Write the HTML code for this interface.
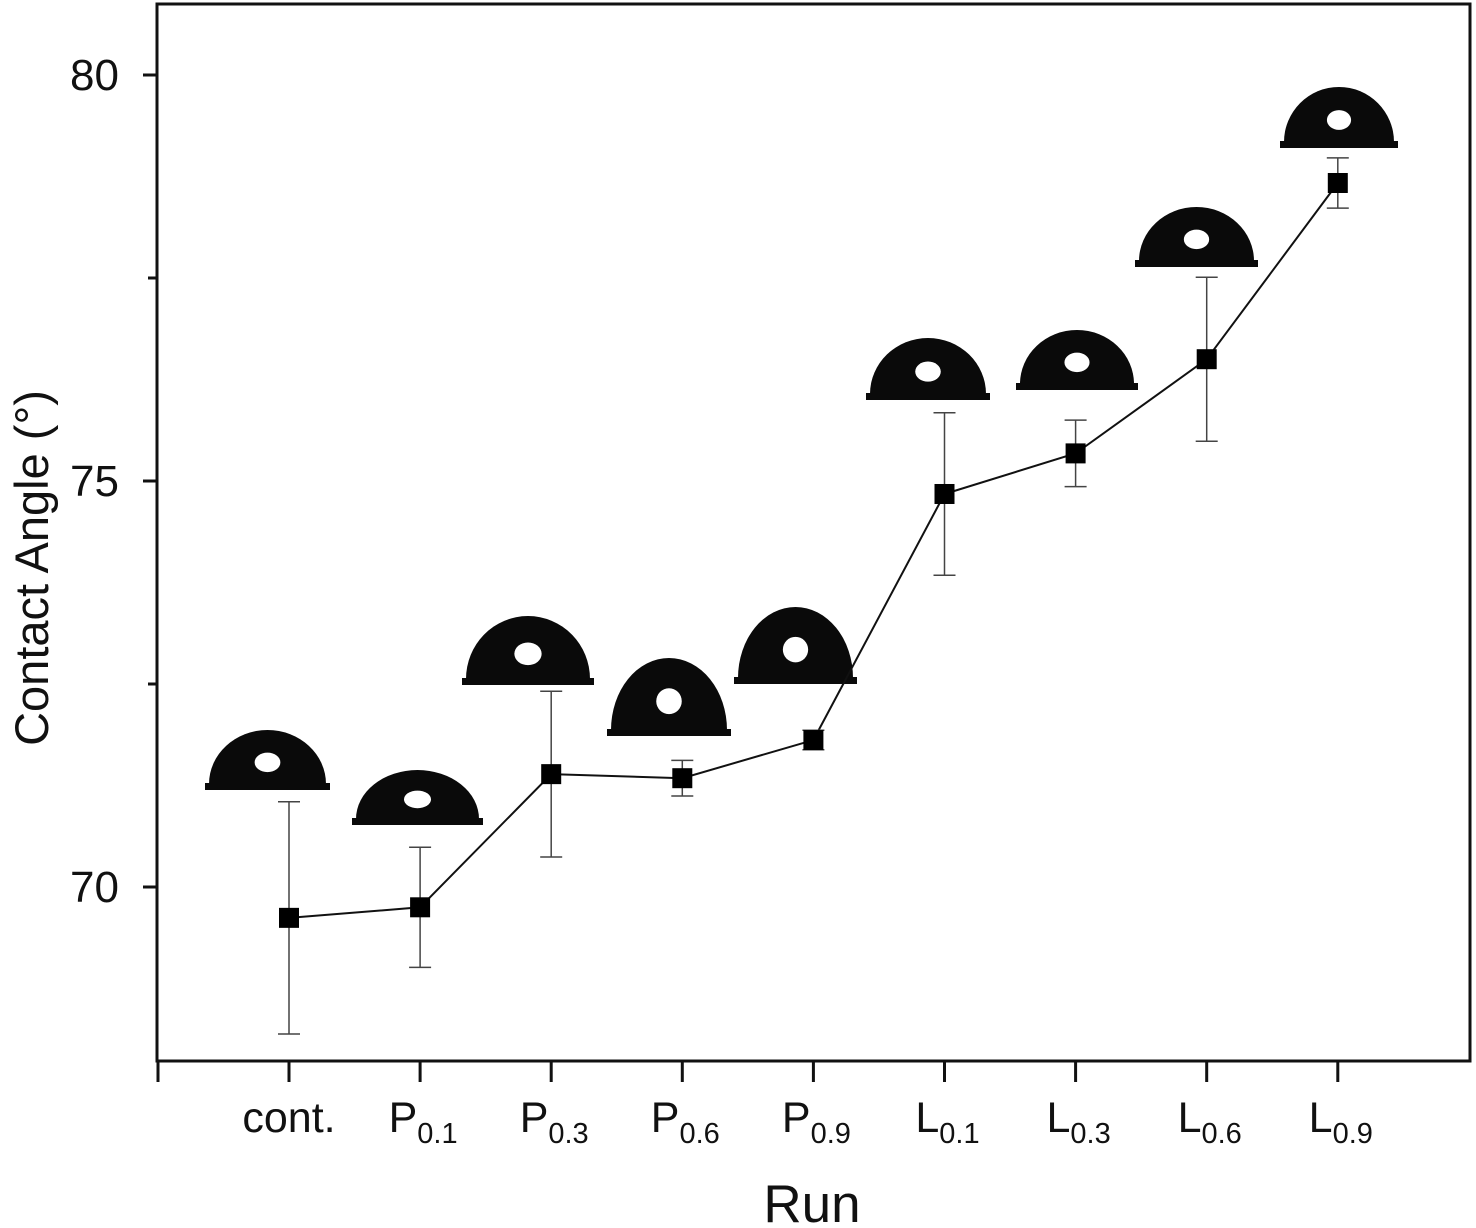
<!DOCTYPE html>
<html><head><meta charset="utf-8"><style>
html,body{margin:0;padding:0;background:#fff;}
svg{display:block;font-family:"Liberation Sans",Arial,sans-serif;}
</style></head><body>
<svg id="chart" width="1476" height="1228" viewBox="0 0 1476 1228" xmlns="http://www.w3.org/2000/svg">
<g id="drops"></g>
<g id="axes"></g>
<g id="series"></g>
<text x="0" y="0" transform="translate(48,568) rotate(-90)" text-anchor="middle" font-size="47" fill="#111">Contact Angle (°)</text>
<text x="812" y="1222" text-anchor="middle" font-size="53" fill="#111">Run</text>
</svg>
<script>
const categories=["cont.","P","P","P","P","L","L","L","L"];
const subs=["","0.1","0.3","0.6","0.9","0.1","0.3","0.6","0.9"];
const values=[69.62,69.75,71.39,71.34,71.81,74.84,75.34,76.5,78.67];
const errors=[1.43,0.74,1.02,0.22,0.12,1.0,0.41,1.01,0.31];
const yTicks=[70,75,80];
const yMinor=[72.5,77.5];
// droplet image boxes: [left, right, top, base]
const drops=[[205,330,730,790],[352,483,770,825],[462,594,616,685],[607,731,658,736],[734,857,607,684],[866,990,338,400],[1016,1138,330,390],[1135,1258,207,267],[1280,1398,87,148]];

const NS="http://www.w3.org/2000/svg";
const X0=157,X1=1470,Y0=4,Y1=1061;
const xs=i=>289+i*131.1;
const ys=v=>887-(v-70)*81.2;
function mk(p,t,a){const e=document.createElementNS(NS,t);for(const k in a)e.setAttribute(k,a[k]);p.appendChild(e);return e;}
const gA=document.getElementById('axes'),gS=document.getElementById('series'),gD=document.getElementById('drops');

let fr=mk(gA,'rect',{x:X0,y:Y0,width:X1-X0,height:Y1-Y0,fill:'none',stroke:'#111','stroke-width':3});


yTicks.forEach(v=>{
  let t=mk(gA,'line',{x1:143,x2:X0,y1:ys(v),y2:ys(v),stroke:'#111','stroke-width':3});
  
  
  let l=mk(gA,'text',{x:119,y:ys(v)+15,'text-anchor':'end','font-size':44,fill:'#111'});
  l.textContent=v;
  
  
});
yMinor.forEach(v=>{
  let t=mk(gA,'line',{x1:148,x2:X0,y1:ys(v),y2:ys(v),stroke:'#111','stroke-width':3});
  
  
});
let t0=mk(gA,'line',{x1:158,x2:158,y1:Y1,y2:1082,stroke:'#111','stroke-width':3});


categories.forEach((c,i)=>{
  const x=xs(i);
  let t=mk(gA,'line',{x1:x,x2:x,y1:Y1,y2:1082,stroke:'#111','stroke-width':3});
  
  
  let l=mk(gA,'text',{x:subs[i]?x+3:x,y:1132,'text-anchor':'middle','font-size':43,fill:'#111'});
  
  
  if(subs[i]){
    let a=mk(l,'tspan',{});a.textContent=c;
    let b=mk(l,'tspan',{'font-size':29,dy:11});b.textContent=subs[i];
  } else l.textContent=c;
});
drops.forEach((d,i)=>{
  const [l,r,t,b]=d;const cx=(l+r)/2,rx=(r-l)/2-4,h=b-t-6;
  let g=mk(gD,'g',{});
  
  
  mk(g,'path',{d:`M${l+4},${b-6} A${rx},${h} 0 0 1 ${r-4},${b-6} Z`,fill:'#0a0a0a'});
  mk(g,'rect',{x:l,y:b-7,width:r-l,height:7,fill:'#0a0a0a'});
  mk(g,'ellipse',{cx:cx,cy:b-6-h*0.4,rx:rx*0.22,ry:h*0.18,fill:'#fff'});
});
let pts=values.map((v,i)=>[xs(i),ys(v)]);
let ln=mk(gS,'polyline',{points:pts.map(p=>p.join(',')).join(' '),fill:'none',stroke:'#111','stroke-width':2});


values.forEach((v,i)=>{
  const x=xs(i),yt=ys(v+errors[i]),yb=ys(v-errors[i]);
  let g=mk(gS,'g',{stroke:'#444','stroke-width':1.5});
  
  
  mk(g,'line',{x1:x,x2:x,y1:yt,y2:yb});
  mk(g,'line',{x1:x-11,x2:x+11,y1:yt,y2:yt});
  mk(g,'line',{x1:x-11,x2:x+11,y1:yb,y2:yb});
  let m=mk(gS,'rect',{x:x-10,y:ys(v)-10,width:20,height:20,fill:'#000'});
  
  
});
</script>
</body></html>
